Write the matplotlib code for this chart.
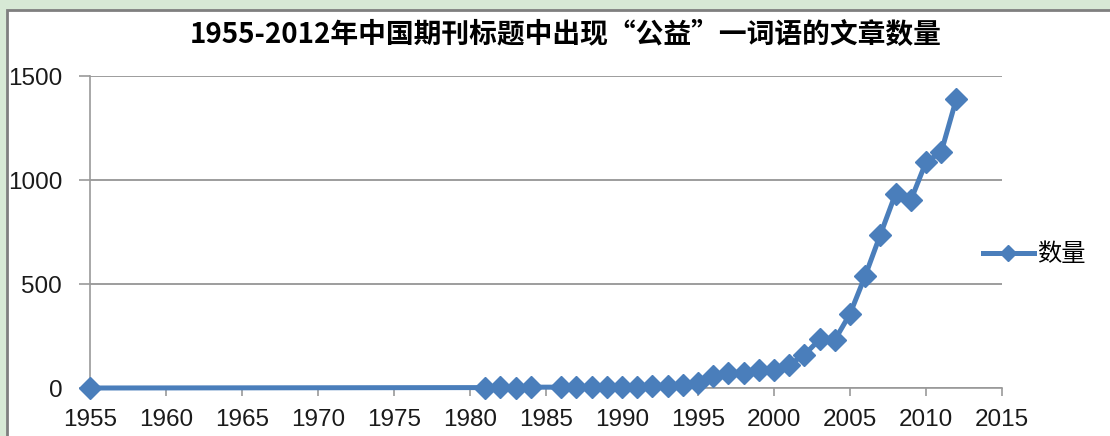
import matplotlib.pyplot as plt
from matplotlib.patches import Rectangle

plt.rcParams['font.family'] = ['Liberation Sans', 'Noto Sans CJK SC', 'DejaVu Sans']

years = [1955, 1981, 1982, 1983, 1984, 1986, 1987, 1988, 1989, 1990,
         1991, 1992, 1993, 1994, 1995, 1996, 1997, 1998, 1999, 2000,
         2001, 2002, 2003, 2004, 2005, 2006, 2007, 2008, 2009, 2010,
         2011, 2012]
counts = [0, 2, 3, 2, 4, 4, 5, 5, 6, 6,
          7, 8, 10, 15, 25, 58, 74, 72, 85, 87,
          112, 160, 234, 231, 357, 540, 739, 936, 904, 1088,
          1136, 1393]

title = '1955-2012年中国期刊标题中出现“公益”一词语的文章数量'
series_name = '数量'
xticks = list(range(1955, 2016, 5))
yticks = [0, 500, 1000, 1500]

blue = '#4a7ebb'
grid_gray = '#8c8c8c'

fig = plt.figure(figsize=(11.1, 4.36), dpi=100)
fig.patch.set_facecolor('#d7e9d5')

# white chart area with grey frame
fig.patches.append(Rectangle((7 / 1110, -0.05), 1.1, 1 - 10 / 436 + 0.05,
                             transform=fig.transFigure, facecolor='white',
                             edgecolor='#7f7f7f', linewidth=2, zorder=-5))

ax = fig.add_axes([90 / 1110, 1 - 388 / 436, 912 / 1110, 311.5 / 436])
ax.set_zorder(2)
ax.set_facecolor('none')

ax.plot(years, counts, color=blue, linewidth=3.6, marker='D',
        markersize=11, markerfacecolor=blue, markeredgecolor=blue,
        label=series_name, clip_on=False, zorder=3)

ax.set_xlim(1955, 2015)
ax.set_ylim(0, 1500)
ax.set_xticks(xticks)
ax.set_yticks(yticks)
ax.tick_params(axis='both', labelsize=17.5, colors='#9a9a9a',
               labelcolor='#1a1a1a', direction='out')
ax.tick_params(axis='x', length=6, width=1.2, pad=9)
ax.tick_params(axis='y', length=8, width=1.2, pad=12)

ax.grid(axis='y', color=grid_gray, linewidth=1.2)
ax.set_axisbelow(True)
for side in ['top', 'right']:
    ax.spines[side].set_visible(False)
ax.spines['left'].set_color('#9a9a9a')
ax.spines['bottom'].set_color('#9a9a9a')
ax.spines['left'].set_linewidth(1.2)
ax.spines['bottom'].set_linewidth(1.2)

fig.text(566 / 1110, 1 - 35 / 436, title, ha='center', va='center',
         fontsize=20, fontweight='bold',
         family=['Noto Sans CJK SC', 'DejaVu Sans'], zorder=5)

leg = ax.legend(loc='center left', bbox_to_anchor=(0.955, 0.43),
                frameon=False, handlelength=2.1, handletextpad=0.15,
                markerscale=0.75,
                prop={'family': 'Noto Sans CJK SC', 'size': 17.5})

fig.savefig('out.png', dpi=100, facecolor=fig.get_facecolor())
